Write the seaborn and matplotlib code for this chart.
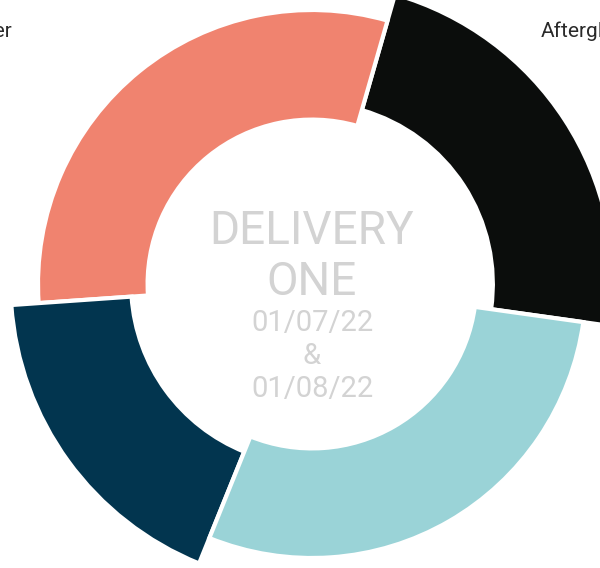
import matplotlib
matplotlib.use("Agg")
import matplotlib.pyplot as plt
import seaborn as sns

# ---- data ----
categories = ["Afterglow", "Sunflower", "Midnight", "Seafoam"]
values = [41, 55, 32, 52]
colors = ["#0B0D0C", "#F0836F", "#02354F", "#9AD3D7"]
radius_scale = [1.1, 1.0, 1.1, 1.0]
center_lines = ["DELIVERY", "ONE", "01/07/22", "&", "01/08/22"]

sns.set_theme(style="white")
plt.rcParams["font.family"] = ["Roboto", "DejaVu Sans"]

fig = plt.figure(figsize=(6.0, 5.68), dpi=100)
ax = fig.add_axes([0, 0, 1, 1])
ax.set_axis_off()

R = 1.0
width_frac = 0.40
wedges, _ = ax.pie(values, colors=colors, startangle=-8, counterclock=True,
                   radius=R, wedgeprops=dict(width=width_frac, edgecolor="white", linewidth=3))
for w, s in zip(wedges, radius_scale):
    w.set_radius(R * s)
    w.set_width(width_frac * s)

unit = 274.0
cx, cy = 312.0, 284.0
ax.set_xlim(-cx / unit, (600 - cx) / unit)
ax.set_ylim(-(568 - cy) / unit, cy / unit)
ax.set_aspect("equal")

# labels (only the two that fall inside the canvas)
label_pos = [(541, 37, "left"), (12, 37, "right")]
for name, (xp, yp, ha) in zip(categories[:2], label_pos):
    ax.text((xp - cx) / unit, (cy - yp) / unit, name, ha=ha, va="baseline",
            fontsize=15, color="#2a2a2a")

# center text
gray = "#D3D3D3"
ys = [231, 282, 323, 356, 389]
sizes = [33, 33, 21, 21, 21]
for t, yp, fs in zip(center_lines, ys, sizes):
    ax.text(0, (cy - yp) / unit, t, ha="center", va="center", fontsize=fs, color=gray)

fig.savefig("out.png", dpi=100)
